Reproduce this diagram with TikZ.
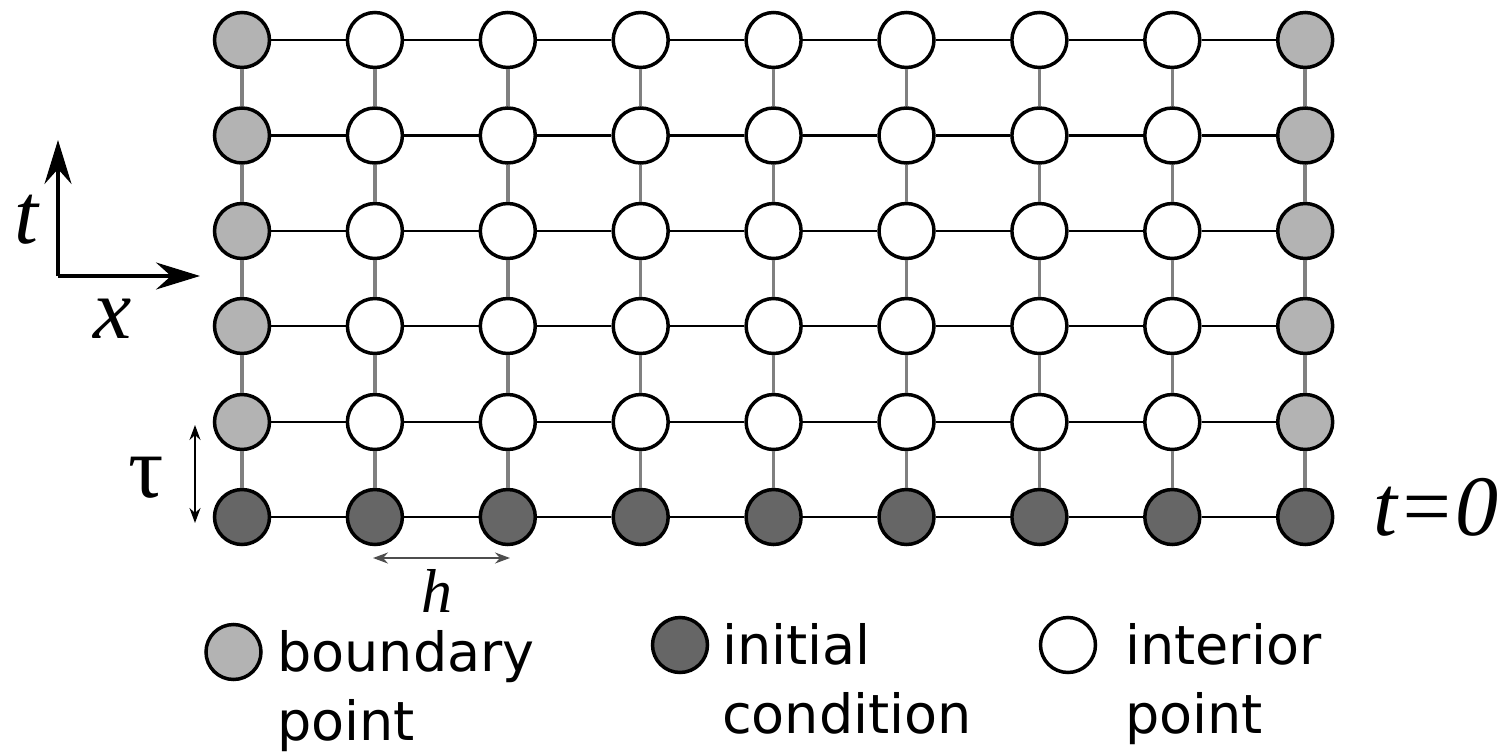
\documentclass[tikz,border=0pt]{standalone}
\usepackage{fontspec}
\usetikzlibrary{arrows.meta}
\newfontfamily\dejavu{DejaVu Sans}
\newfontfamily\tms{Liberation Serif}
\definecolor{bnd}{HTML}{B3B3B3}
\definecolor{ini}{HTML}{666666}
\definecolor{vline}{HTML}{808080}
\definecolor{harr}{HTML}{4D4D4D}
\tikzset{
  pt/.style={circle, draw=black, line width=3.5pt, minimum size=55pt, inner sep=0pt},
  bpt/.style={pt, fill=bnd},
  ipt/.style={pt, fill=ini},
  wpt/.style={pt, fill=white},
  hlin/.style={black, line width=2.5pt},
  vlin/.style={vline, line width=3.5pt},
  axis/.style={black, line width=3.5pt, -{Stealth[length=44pt, width=27pt, inset=15pt]}},
  dim/.style={line width=2pt, {Stealth[length=15pt, width=11pt, inset=5pt]}-{Stealth[length=15pt, width=11pt, inset=5pt]}},
  bigmath/.style={font=\tms\fontsize{86}{86}\selectfont\itshape, inner sep=0pt},
  legtext/.style={font=\dejavu\fontsize{54}{69}\selectfont, align=left, inner sep=0pt},
}
\begin{document}
\begin{tikzpicture}[x=1pt,y=-1pt]
\useasboundingbox (0,0) rectangle (1507,752);
% grid points
\foreach \j/\y in {0/517,1/422,2/326,3/231,4/135.5,5/40}{
  \foreach \i in {0,...,8}{
    \ifnum\j=0 \def\st{ipt}\else\ifnum\i=0 \def\st{bpt}\else\ifnum\i=8 \def\st{bpt}\else\def\st{wpt}\fi\fi\fi
    \node[\st] (n-\i-\j) at ({242+132.9*\i},\y) {};
  }
}
% horizontal connectors
\foreach \j in {0,...,5}{
  \foreach \i [count=\k] in {0,...,7}{
    \draw[hlin] (n-\i-\j) -- (n-\k-\j);
  }
}
% vertical connectors
\foreach \i in {0,...,8}{
  \foreach \j [count=\k] in {0,...,4}{
    \draw[vlin] (n-\i-\j) -- (n-\i-\k);
  }
}
% axes
\coordinate (O) at (58,276);
\coordinate (Ot) at (58,140);
\coordinate (Ox) at (200,276);
\draw[axis] (O) -- (Ot);
\draw[axis] (O) -- (Ox);
\node[bigmath, anchor=base] (tl) at (26,243) {t};
\node[bigmath, anchor=base] (xl) at (113,338) {x};
% tau
\coordinate (ta) at (195,425);
\coordinate (tb) at (195,523);
\draw[dim, black] (ta) -- (tb);
\node[font=\tms\fontsize{88}{88}\selectfont, inner sep=0pt, anchor=base] (taul) at (146,497) {τ};
% h
\coordinate (ha) at (373,558);
\coordinate (hb) at (510,558);
\draw[dim, harr] (ha) -- (hb);
\node[font=\tms\fontsize{62}{62}\selectfont\itshape, inner sep=0pt, anchor=base] (hl) at (437,612) {h};
% t=0
\node[bigmath, anchor=base west] (t0) at (1373,535) {t=0};
% legend
\node[bpt] (lb) at (233.5,652) {};
\node[ipt] (li) at (680,645) {};
\node[wpt] (lw) at (1068,645) {};
\node[legtext, anchor=base west] (lbt) at (277,740) {boundary\\point};
\node[legtext, anchor=base west] (lit) at (722,733) {initial\\condition};
\node[legtext, anchor=base west] (lwt) at (1125,733) {interior\\point};
\end{tikzpicture}
\end{document}
